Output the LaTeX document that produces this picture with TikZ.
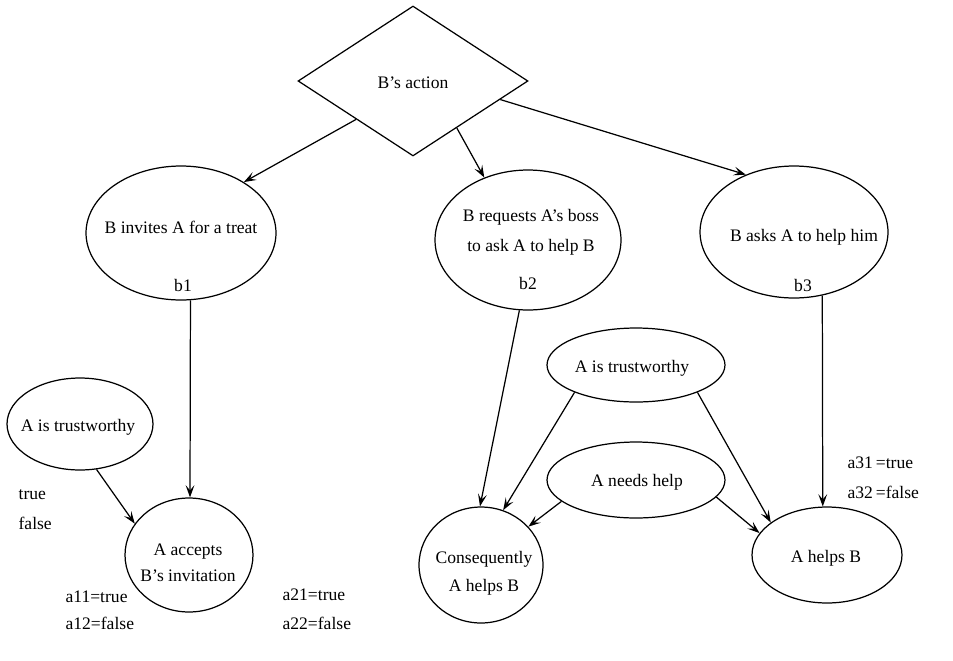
\documentclass[tikz,border=0pt]{standalone}
\usepackage{fontspec}
\setmainfont{Liberation Serif}
\usepackage{tikz}
\usetikzlibrary{shapes.geometric,arrows.meta}

\tikzset{
  bubble/.style 2 args={draw, ellipse, inner sep=0pt, minimum width=#1, minimum height=#2},
  choice/.style={draw, diamond, inner sep=0pt, minimum width=4.6cm, minimum height=3cm},
  txt/.style={inner sep=0pt, align=center, font=\fontsize{10}{12}\selectfont},
  side/.style={inner sep=0pt, anchor=west, font=\fontsize{10}{12}\selectfont},
  link/.style={-{Stealth[length=7pt,width=5pt,inset=3pt]}}
}

\begin{document}
\begin{tikzpicture}[x=0.02cm, y=-0.02cm, line width=0.7pt]
    \useasboundingbox (0,0) rectangle (953,660);

    % top decision
    \node[choice] (act) at (413,81) {};
    \node[txt] (acttxt) at (413,83) {B's action};

    % what B does
    \node[bubble={3.8cm}{2.68cm}] (b1) at (181,233) {};
    \node[txt] (b1txt) at (181,227) {B invites A for a treat};
    \node[txt] (b1lab) at (183,285) {b1};
    \node[bubble={3.72cm}{2.8cm}] (b2) at (528,240) {};
    \node[txt] (b2txt) at (531,232) {B requests A's boss\\[5pt]to ask A to help B};
    \node[txt] (b2lab) at (528,283) {b2};
    \node[bubble={3.76cm}{2.64cm}] (b3) at (794,232) {};
    \node[txt] (b3txt) at (804,237) {B asks A to help him};
    \node[txt] (b3lab) at (803,285) {b3};

    % what A does
    \node[bubble={2.92cm}{1.84cm}] (trL) at (80,424) {};
    \node[txt] (trLtxt) at (78,427) {A is trustworthy};
    \node[bubble={2.56cm}{2.28cm}] (acc) at (189,555) {};
    \node[txt] (acctxt) at (188,563) {A accepts\\[3pt]B's invitation};
    \node[bubble={3.56cm}{1.48cm}] (trR) at (636,365) {};
    \node[txt] (trRtxt) at (632,368) {A is trustworthy};
    \node[bubble={3.56cm}{1.52cm}] (need) at (636,480) {};
    \node[txt] (needtxt) at (637,482) {A needs help};
    \node[bubble={2.48cm}{2.32cm}] (cons) at (481,565) {};
    \node[txt] (constxt) at (484,573) {Consequently\\[4pt]A helps B};
    \node[bubble={3cm}{1.92cm}] (helps) at (827,555) {};
    \node[txt] (helpstxt) at (826,558) {A helps B};

    % values
    \node[side] (v1) at (18,495) {true};
    \node[side] (v2) at (18,523) {false};
    \node[side] (a11) at (65,597) {a11=true};
    \node[side] (a12) at (65,623) {a12=false};
    \node[side] (a21) at (282,595) {a21=true};
    \node[side] (a22) at (282,623) {a22=false};
    \node[side] (a31) at (847,463) {a31\,=true};
    \node[side] (a32) at (847,492) {a32\,=false};

    % links
    \draw[link] (act.-146) -- (b1.39);
    \draw[link] (act.-47) -- (b2.125);
    \draw[link] (act.-12) -- (b3.130);
    \draw[link] (b1.-82) -- (acc.89);
    \draw[link] (trL.-70) -- (acc.150);
    \draw[link] (b2.-97) -- (cons.91);
    \draw[link] (trR.-156) -- (cons.68);
    \draw[link] (need.-164) -- (cons.39);
    \draw[link] (trR.-24) -- (helps.150);
    \draw[link] (need.-12) -- (helps.162);
    \draw[link] (b3.-66) -- (helps.95);
\end{tikzpicture}
\end{document}
